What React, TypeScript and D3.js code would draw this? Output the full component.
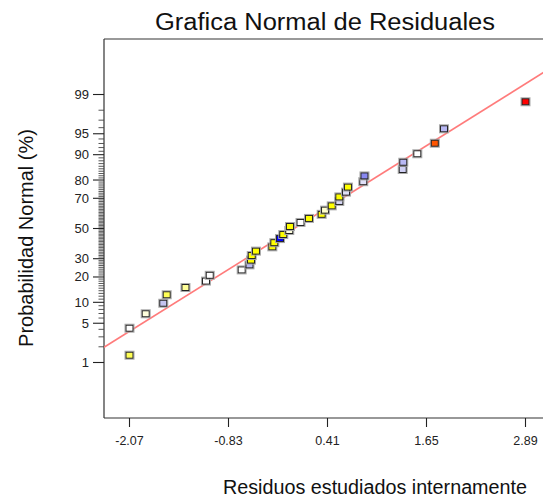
import React from "react";
import * as d3 from "d3";

const residuals = [
  -2.07, -2.07, -1.867, -1.647, -1.604, -1.369, -1.112, -1.065, -0.665, -0.567,
  -0.548, -0.539, -0.486, -0.281, -0.256, -0.185, -0.144, -0.069, -0.06, 0.072,
  0.178, 0.337, 0.379, 0.463, 0.558, 0.558, 0.642, 0.666, 0.858, 0.873,
  1.352, 1.359, 1.535, 1.754, 1.869, 2.89,
];
const probabilities = [
  1.39, 4.17, 6.94, 9.72, 12.5, 15.28, 18.06, 20.83, 23.61, 26.39,
  29.17, 31.94, 34.72, 37.5, 40.28, 43.06, 45.83, 48.61, 51.39, 54.17,
  56.94, 59.72, 62.5, 65.28, 68.06, 70.83, 73.61, 76.39, 79.17, 81.94,
  84.72, 87.5, 90.28, 93.06, 95.83, 98.61,
];
const pointColors = [
  "#ffff55", "#ffffff", "#ffffdd", "#c4c4f0", "#ffff55", "#ffff99", "#ffffff", "#ffffff", "#ffffff", "#b8b8f0",
  "#ffff00", "#ffff00", "#ffff00", "#ffff00", "#ffff00", "#0000ff", "#ffff00", "#ffffdd", "#ffff00", "#ffffff",
  "#ffff00", "#ffff00", "#ffffcc", "#ffff00", "#d8d8f8", "#ffff00", "#e0e0f8", "#ffff00", "#e0e0f8", "#8888f0",
  "#d0d0f4", "#b8b8f4", "#ffffff", "#ff5500", "#b8b8f4", "#ff0000",
];
const xTicks = [-2.07, -0.83, 0.41, 1.65, 2.89];
const yMajorTicks = [1, 5, 10, 20, 30, 50, 70, 80, 90, 95, 99];
const fitMean = -0.01;
const fitSd = 1.154;

// inverse normal CDF (Acklam)
function qnorm(p: number): number {
  const a = [-39.69683028665376, 220.9460984245205, -275.9285104469687, 138.357751867269, -30.66479806614716, 2.506628277459239];
  const b = [-54.47609879822406, 161.5858368580409, -155.6989798598866, 66.80131188771972, -13.28068155288572];
  const c = [-0.007784894002430293, -0.3223964580411365, -2.400758277161838, -2.549732539343734, 4.374664141464968, 2.938163982698783];
  const d = [0.007784695709041462, 0.3224671290700398, 2.445134137142996, 3.754408661907416];
  const pl = 0.02425;
  let q, r;
  if (p < pl) {
    q = Math.sqrt(-2 * Math.log(p));
    return (((((c[0] * q + c[1]) * q + c[2]) * q + c[3]) * q + c[4]) * q + c[5]) / ((((d[0] * q + d[1]) * q + d[2]) * q + d[3]) * q + 1);
  } else if (p <= 1 - pl) {
    q = p - 0.5;
    r = q * q;
    return (((((a[0] * r + a[1]) * r + a[2]) * r + a[3]) * r + a[4]) * r + a[5]) * q / (((((b[0] * r + b[1]) * r + b[2]) * r + b[3]) * r + b[4]) * r + 1);
  } else {
    q = Math.sqrt(-2 * Math.log(1 - p));
    return -(((((c[0] * q + c[1]) * q + c[2]) * q + c[3]) * q + c[4]) * q + c[5]) / ((((d[0] * q + d[1]) * q + d[2]) * q + d[3]) * q + 1);
  }
}

export default function App() {
  const W = 543, H = 501;
  const left = 104, top = 39, bottom = 418, right = 548;
  const x = d3.scaleLinear().domain([-2.07, 2.89]).range([129.5, 525.5]);
  const yz = d3.scaleLinear().domain([-3.29, 3.29]).range([bottom, top]);
  const yp = (pct: number) => yz(qnorm(pct / 100));
  const minor = d3.range(2, 99).filter((v) => !yMajorTicks.includes(v));
  const xMin = x.invert(left), xMax = x.invert(right);
  const font = "'Liberation Sans', Arial, sans-serif";

  return (
    <svg width={W} height={H} style={{ position: "absolute", left: 0, top: 0, background: "#fff" }} fontFamily={font}>
      <defs>
        <clipPath id="plotclip">
          <rect x={left} y={top} width={right - left} height={bottom - top} />
        </clipPath>
      </defs>
      <text x={325} y={30} fontSize={23} textAnchor="middle" textLength={340} lengthAdjust="spacingAndGlyphs" fill="#111">
        Grafica Normal de Residuales
      </text>
      {/* frame */}
      <line x1={left} x2={right} y1={top} y2={top} stroke="#777" strokeWidth={1.3} />
      <line x1={left} x2={right} y1={bottom} y2={bottom} stroke="#333" strokeWidth={1.2} />
      <line x1={left} x2={left} y1={top} y2={bottom} stroke="#333" strokeWidth={1.2} />
      {/* y ticks */}
      {minor.map((v) => (
        <line key={"m" + v} x1={98.5} x2={left} y1={yp(v)} y2={yp(v)} stroke="#444" strokeWidth={0.9} />
      ))}
      {yMajorTicks.map((v) => (
        <g key={"M" + v}>
          <line x1={93} x2={left} y1={yp(v)} y2={yp(v)} stroke="#222" strokeWidth={1.1} />
          <text x={89} y={yp(v) + 4.5} fontSize={13} textAnchor="end" fill="#222">{v}</text>
        </g>
      ))}
      {/* x ticks */}
      {xTicks.map((v) => (
        <g key={"x" + v}>
          <line x1={x(v)} x2={x(v)} y1={bottom} y2={bottom + 9} stroke="#222" strokeWidth={1.1} />
          <text x={x(v)} y={445} fontSize={12.5} textAnchor="middle" fill="#222">{v.toFixed(2)}</text>
        </g>
      ))}
      {/* fit line */}
      <g clipPath="url(#plotclip)">
        <line
          x1={x(xMin)} y1={yz((xMin - fitMean) / fitSd)}
          x2={x(xMax)} y2={yz((xMax - fitMean) / fitSd)}
          stroke="#ff7b7b" strokeWidth={1.6}
        />
      </g>
      {/* points */}
      {residuals.map((r, i) => {
        const cx = x(r), cy = yp(probabilities[i]);
        return (
          <g key={"p" + i}>
            <rect x={cx - 4.5} y={cy - 4} width={9} height={8} fill="none" stroke="#aaa" strokeWidth={1} />
            <rect x={cx - 3.5} y={cy - 3} width={7} height={6} fill={pointColors[i]} stroke="#222" strokeWidth={1} />
          </g>
        );
      })}
      <text x={375} y={494} fontSize={19.5} textAnchor="middle" textLength={304} lengthAdjust="spacingAndGlyphs" fill="#111">
        Residuos estudiados internamente
      </text>
      <text transform="translate(33,238) rotate(-90)" fontSize={20} textAnchor="middle" fill="#111">
        Probabilidad Normal (%)
      </text>
    </svg>
  );
}
